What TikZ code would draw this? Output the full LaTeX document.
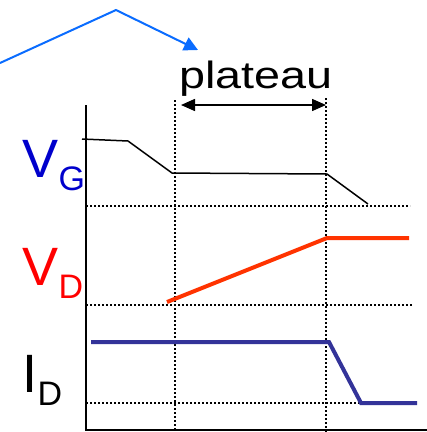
\documentclass[tikz,border=0pt]{standalone}
\usepackage{fontspec}
\setmainfont{Liberation Sans}
\usepackage{graphicx}
\usetikzlibrary{arrows.meta,positioning}
\definecolor{arrc}{HTML}{0A6CFF}
\definecolor{gatec}{HTML}{0000CC}
\definecolor{lblred}{HTML}{FF0000}
\definecolor{drainc}{HTML}{FF3300}
\definecolor{curc}{HTML}{333399}
\tikzset{
  dotln/.style={line width=1.7pt,dash pattern=on 1.7pt off 2.3pt},
  sig/.style={line width=4pt},
  big/.style={inner sep=0pt,anchor=base west,font=\fontsize{54}{54}\selectfont},
  sub/.style={inner sep=0pt,anchor=base west,font=\fontsize{34}{34}\selectfont}
}
\begin{document}
\begin{tikzpicture}[x=1pt,y=1pt]
\useasboundingbox (0,0) rectangle (427,-432);
\coordinate (a0) at (0,-63);
\coordinate (a1) at (116,-10);
\coordinate (a2) at (198,-50);
\draw[arrc,line width=2pt,-{Triangle[length=14pt,width=14pt]}] (a0)--(a1)--(a2);
\node[anchor=base,inner sep=0pt,font=\fontsize{38}{38}\selectfont] (plat) at (256,-88) {\scalebox{1.23}[1]{plateau}};
\coordinate (pl) at (175,-100);
\coordinate (pr) at (326,-98);
\draw[dotln] (pl)--(175,-432);
\draw[dotln] (pr)--(326,-432);
\draw[line width=1.5pt,{Triangle[length=14pt,width=12pt]}-{Triangle[length=14pt,width=12pt]}] ([xshift=6pt,yshift=-5pt]pl)--([yshift=-7pt]pr);
\coordinate (o) at (86,-430);
\draw[line width=2pt] (86,-105)--(o)--(427,-430);
\draw[dotln] (86,-206)--(410,-206);
\draw[dotln] (86,-305)--(412,-305);
\draw[dotln] (86,-403)--(417,-403);
\draw[line width=1.5pt] (82,-139)--(128,-141)--(172,-173)--(327,-174)--(368,-204);
\draw[sig,drainc] (167,-302)--(327,-238)--(409,-238);
\draw[sig,curc] (91,-342)--(329,-342)--(361,-403)--(417,-403);
\node[big,gatec] (vg) at (22,-177) {V};
\node[sub,gatec] (vgs) at ([yshift=-13pt]vg.base east) {G};
\node[big,lblred] (vd) at (22,-285) {V};
\node[sub,lblred] (vds) at ([yshift=-13pt]vd.base east) {D};
\node[big] (id) at (22,-392) {I};
\node[sub] (ids) at ([yshift=-13pt]id.base east) {D};
\end{tikzpicture}
\end{document}
